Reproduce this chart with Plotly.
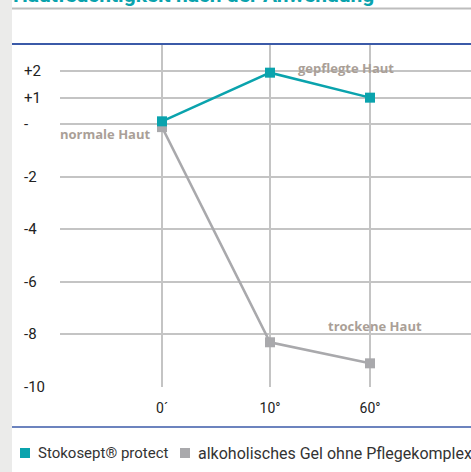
import plotly.graph_objects as go

# ---- data ----
categories = ["0´", "10°", "60°"]
stokosept = [0.1, 1.95, 1.0]
alkohol_gel = [-0.12, -8.3, -9.1]
series_names = ["Stokosept® protect", "alkoholisches Gel ohne Pflegekomplex"]
y_tick_vals = [2, 1, 0, -2, -4, -6, -8, -10]
y_tick_text = ["+2", "+1", "-", "-2", "-4", "-6", "-8", "-10"]
title_text = "Hautfeuchtigkeit nach der Anwendung"
label_texts = ["normale Haut", "gepflegte Haut", "trockene Haut"]

# layout positions of the categories on the x axis (uneven spacing as in original)
x_pos = [0, 1.08, 2.08]

TEAL = "#0aa3ad"
GRAY = "#a9a9ac"
LABEL = "#aa9f97"
BLUE = "#3b5aa8"
FONT = "Roboto"
LFONT = "Open Sans"

fig = go.Figure()
fig.add_trace(go.Scatter(x=x_pos, y=alkohol_gel, mode="lines+markers", name=series_names[1],
                         line=dict(color=GRAY, width=2.5),
                         marker=dict(symbol="square", size=10, color=GRAY),
                         showlegend=False))
fig.add_trace(go.Scatter(x=x_pos, y=stokosept, mode="lines+markers", name=series_names[0],
                         line=dict(color=TEAL, width=2.5),
                         marker=dict(symbol="square", size=10, color=TEAL),
                         showlegend=False))

L, T, W, H = 60, 44, 471, 472
plot_w = W - L
plot_h = 387 - T

def px_x(p):
    return (p - L) / plot_w

def px_y(p):
    return 1 - (p - T) / plot_h

annotations = []
# left-aligned y tick labels
for v, t in zip(y_tick_vals, y_tick_text):
    annotations.append(dict(xref="paper", yref="y", x=px_x(22), y=v, text=t,
                            xanchor="left", yanchor="middle", showarrow=False,
                            yshift=0,
                            font=dict(family=FONT, size=15, color="#222222")))
# curve labels
annotations.append(dict(xref="paper", yref="y", x=0, y=stokosept[0], text="<b>%s</b>" % label_texts[0],
                        xanchor="left", yanchor="middle", xshift=-2, yshift=-13, showarrow=False,
                        font=dict(family=LFONT, size=13, color=LABEL)))
annotations.append(dict(xref="x", yref="y", x=x_pos[1], y=stokosept[1], text="<b>%s</b>" % label_texts[1],
                        xanchor="left", yanchor="middle", xshift=26, yshift=5, showarrow=False,
                        font=dict(family=LFONT, size=13, color=LABEL)))
annotations.append(dict(xref="x", yref="y", x=x_pos[2], y=alkohol_gel[1], text="<b>%s</b>" % label_texts[2],
                        xanchor="center", yanchor="middle", xshift=5, yshift=16, showarrow=False,
                        font=dict(family=LFONT, size=13, color=LABEL)))
# partially visible title (cut off at the top edge, as in the original)
annotations.append(dict(xref="paper", yref="paper", x=px_x(11), y=px_y(9), text="<b>%s</b>" % title_text,
                        xanchor="left", yanchor="bottom", showarrow=False,
                        font=dict(family=FONT, size=21, color=TEAL)))

# manual legend (tight spacing as in original)
legend_colors = [TEAL, GRAY]
legend_sq_x = [20, 180]
legend_font_sizes = [15, 16]
legend_y = 453
shapes = [
    dict(type="rect", xref="paper", yref="paper", x0=px_x(0), x1=px_x(12), y0=px_y(H), y1=px_y(0),
         fillcolor="#ebebea", line=dict(width=0), layer="below"),
    dict(type="line", xref="paper", yref="paper", x0=px_x(12), x1=px_x(W), y0=px_y(8.5), y1=px_y(8.5),
         line=dict(color="#bdbdbd", width=2)),
    dict(type="line", xref="paper", yref="paper", x0=px_x(12), x1=px_x(W), y0=px_y(44), y1=px_y(44),
         line=dict(color=BLUE, width=2)),
    dict(type="line", xref="paper", yref="paper", x0=px_x(12), x1=px_x(W), y0=px_y(427), y1=px_y(427),
         line=dict(color=BLUE, width=1.5)),
]
for name, col, sx, fs in zip(series_names, legend_colors, legend_sq_x, legend_font_sizes):
    shapes.append(dict(type="rect", xref="paper", yref="paper",
                       x0=px_x(sx), x1=px_x(sx + 10), y0=px_y(legend_y + 5), y1=px_y(legend_y - 5),
                       fillcolor=col, line=dict(width=0)))
    annotations.append(dict(xref="paper", yref="paper", x=px_x(sx + 16), y=px_y(legend_y), text=name,
                            xanchor="left", yanchor="middle", showarrow=False,
                            font=dict(family=FONT, size=fs, color="#333333")))

fig.update_layout(
    width=W, height=H,
    margin=dict(l=L, r=0, t=T, b=H - 387),
    paper_bgcolor="white", plot_bgcolor="white",
    font=dict(family=FONT, size=15, color="#222222"),
    showlegend=False,
    xaxis=dict(range=[(L - 162) / 100, (W - 162) / 100], tickvals=x_pos, ticktext=categories,
               showgrid=True, gridcolor="#c4c4c4", gridwidth=1.5, zeroline=False,
               showline=False, ticks="", ticklabelstandoff=11,
               tickfont=dict(family=FONT, size=14, color="#222222")),
    yaxis=dict(range=[-10, 3.04], tickvals=y_tick_vals, showticklabels=False,
               showgrid=True, gridcolor="#c4c4c4", gridwidth=1.5, zeroline=False,
               showline=False, ticks=""),
    annotations=annotations,
    shapes=shapes,
)

fig.write_html("out.html", config={"displayModeBar": False},
               post_script="document.body.style.margin='0';document.body.style.overflow='hidden';")
